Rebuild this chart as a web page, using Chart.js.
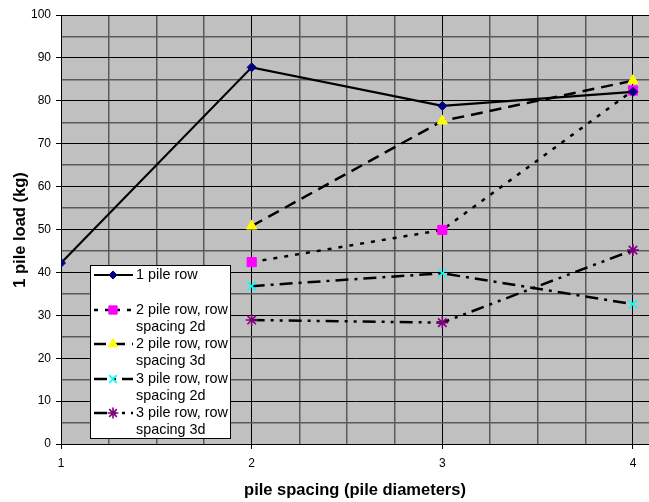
<!DOCTYPE html>
<html>
<head>
<meta charset="utf-8">
<script src="https://cdn.jsdelivr.net/npm/chart.js@4.4.0/dist/chart.umd.min.js"></script>
<style>
html,body{margin:0;padding:0;background:#fff;}
#wrap{width:649px;height:502px;position:relative;}
</style>
</head>
<body>
<div id="wrap"><canvas id="c" width="649" height="502"></canvas></div>
<script>
const xTicks = [1, 1.25, 1.5, 1.75, 2, 2.25, 2.5, 2.75, 3, 3.25, 3.5, 3.75, 4];
const xLabels = [1, 2, 3, 4];
const yLabels = [0, 10, 20, 30, 40, 50, 60, 70, 80, 90, 100];

const s1x = [1, 2, 3, 4];
const s1y = [42.2, 87.8, 78.8, 82.1];
const s2x = [2, 3, 4];
const s2y = [42.4, 49.9, 82.4];
const s3x = [2, 3, 4];
const s3y = [50.8, 75.3, 84.7];
const s4x = [2, 3, 4];
const s4y = [36.8, 39.8, 32.6];
const s5x = [2, 3, 4];
const s5y = [28.9, 28.3, 45.2];

const seriesNames = [
  ['1 pile row'],
  ['2 pile row, row', 'spacing 2d'],
  ['2 pile row, row', 'spacing 3d'],
  ['3 pile row, row', 'spacing 2d'],
  ['3 pile row, row', 'spacing 3d']
];

function pts(xs, ys) { return xs.map((x, i) => ({x: x, y: ys[i]})); }

const FONT = '"Liberation Sans", Arial, sans-serif';

const datasets = [
  {label: seriesNames[0].join(' '), data: pts(s1x, s1y), borderColor: '#000', borderWidth: 2.2, borderDash: [],
   pointStyle: 'rectRot', pointRadius: 4.5, pointBackgroundColor: '#000080', pointBorderColor: '#000080', pointBorderWidth: 1},
  {label: seriesNames[1].join(' '), data: pts(s2x, s2y), borderColor: '#000', borderWidth: 2.5, borderDash: [4, 7],
   pointStyle: 'rect', pointRadius: 6.5, pointBackgroundColor: '#ff00ff', pointBorderColor: '#ff00ff', pointBorderWidth: 1},
  {label: seriesNames[2].join(' '), data: pts(s3x, s3y), borderColor: '#000', borderWidth: 2.5, borderDash: [12, 7],
   pointStyle: 'triangle', pointRadius: 6, pointBackgroundColor: '#ffff00', pointBorderColor: '#ffff00', pointBorderWidth: 1},
  {label: seriesNames[3].join(' '), data: pts(s4x, s4y), borderColor: '#000', borderWidth: 2.5, borderDash: [13, 6, 3, 6],
   pointStyle: 'crossRot', pointRadius: 6, pointBackgroundColor: '#00ffff', pointBorderColor: '#00ffff', pointBorderWidth: 1.6},
  {label: seriesNames[4].join(' '), data: pts(s5x, s5y), borderColor: '#000', borderWidth: 2.5, borderDash: [13, 6, 3, 6, 3, 6],
   pointStyle: 'star', pointRadius: 6, pointBackgroundColor: '#800080', pointBorderColor: '#800080', pointBorderWidth: 1.6}
];
datasets.forEach(d => { d.fill = false; d.tension = 0; d.showLine = true; d.pointHoverRadius = d.pointRadius; });

const bgPlugin = {
  id: 'bg',
  beforeDraw(chart) {
    const a = chart.chartArea, ctx = chart.ctx;
    ctx.save();
    ctx.fillStyle = '#c0c0c0';
    ctx.fillRect(a.left, a.top, a.right - a.left, a.bottom - a.top);
    ctx.strokeStyle = '#808080';
    ctx.lineWidth = 1;
    ctx.beginPath();
    ctx.moveTo(a.left, a.top + 0.5);
    ctx.lineTo(a.right, a.top + 0.5);
    ctx.stroke();
    ctx.restore();
  },
  afterDraw(chart) {
    const ctx = chart.ctx;
    const a = chart.chartArea;
    ctx.save();
    ctx.fillStyle = '#000';
    ctx.font = 'bold 16.5px ' + FONT;
    ctx.textAlign = 'center';
    ctx.textBaseline = 'middle';
    ctx.fillText('pile spacing (pile diameters)', (a.left + a.right) / 2, 490);
    ctx.translate(20, 230);
    ctx.rotate(-Math.PI / 2);
    ctx.fillText('1 pile load (kg)', 0, 0);
    ctx.restore();

    // legend
    ctx.save();
    const L = 90, T = 265, W = 140, H = 173;
    ctx.fillStyle = '#fff';
    ctx.fillRect(L, T, W, H);
    ctx.strokeStyle = '#000';
    ctx.lineWidth = 1;
    ctx.strokeRect(L + 0.5, T + 0.5, W, H);
    const rowY = [275, 310, 344, 379, 413];
    ctx.font = '14.4px ' + FONT;
    ctx.textAlign = 'left';
    ctx.textBaseline = 'middle';
    chart.data.datasets.forEach((d, i) => {
      const y = rowY[i];
      ctx.save();
      ctx.strokeStyle = d.borderColor;
      ctx.lineWidth = d.borderWidth;
      ctx.setLineDash(d.borderDash);
      ctx.beginPath();
      ctx.moveTo(94, y);
      ctx.lineTo(133, y);
      ctx.stroke();
      ctx.restore();
      ctx.save();
      ctx.fillStyle = d.pointBackgroundColor;
      ctx.strokeStyle = d.pointBorderColor;
      ctx.lineWidth = d.pointBorderWidth;
      Chart.helpers.drawPoint(ctx, {pointStyle: d.pointStyle, radius: d.pointRadius * 0.9, borderWidth: d.pointBorderWidth, rotation: 0}, 113, y);
      ctx.restore();
      ctx.fillStyle = '#000';
      seriesNames[i].forEach((t, j) => ctx.fillText(t, 136, y + j * 17.5));
    });
    ctx.restore();
  }
};

new Chart(document.getElementById('c'), {
  type: 'scatter',
  data: {datasets: datasets},
  plugins: [bgPlugin],
  options: {
    responsive: false,
    animation: false,
    devicePixelRatio: 1,
    layout: {autoPadding: false, padding: {top: 15, right: 0, left: 0, bottom: 0}},
    plugins: {legend: {display: false}, tooltip: {enabled: false}},
    scales: {
      x: {
        type: 'linear', min: 1, max: 4.084,
        afterBuildTicks(scale) { scale.ticks = xTicks.map(v => ({value: v})); },
        afterFit(scale) { scale.height = 58; scale.paddingLeft = 0; scale.paddingRight = 0; },
        ticks: {
          autoSkip: false, maxRotation: 0, padding: 7,
          font: {family: FONT, size: 12}, color: '#000',
          callback: v => xLabels.includes(v) ? String(v) : ''
        },
        grid: {
          drawOnChartArea: true, drawTicks: true, tickLength: 5,
          color: c => (c.tick && xLabels.includes(c.tick.value)) ? '#000' : '#5a5a5a',
          lineWidth: c => (c.tick && xLabels.includes(c.tick.value)) ? 1 : 1.5,
          tickColor: c => (c.tick && xLabels.includes(c.tick.value)) ? '#000' : 'rgba(0,0,0,0)'
        },
        border: {display: true, color: '#000', width: 1}
      },
      y: {
        type: 'linear', min: 0, max: 100,
        afterBuildTicks(scale) {
          const t = [];
          for (let v = 0; v <= 100; v += 5) t.push({value: v});
          scale.ticks = t;
        },
        afterFit(scale) { scale.width = 61; scale.paddingTop = 0; scale.paddingBottom = 0; },
        ticks: {
          autoSkip: false, padding: 5,
          font: {family: FONT, size: 12}, color: '#000',
          callback: v => yLabels.includes(v) ? String(v) : ''
        },
        grid: {
          drawOnChartArea: true, drawTicks: true, tickLength: 5,
          color: c => (c.tick && yLabels.includes(c.tick.value)) ? '#000' : '#5a5a5a',
          lineWidth: c => (c.tick && yLabels.includes(c.tick.value)) ? 1 : 1.5,
          tickColor: c => (c.tick && yLabels.includes(c.tick.value)) ? '#000' : 'rgba(0,0,0,0)'
        },
        border: {display: true, color: '#000', width: 1}
      }
    }
  }
});
</script>
</body>
</html>
